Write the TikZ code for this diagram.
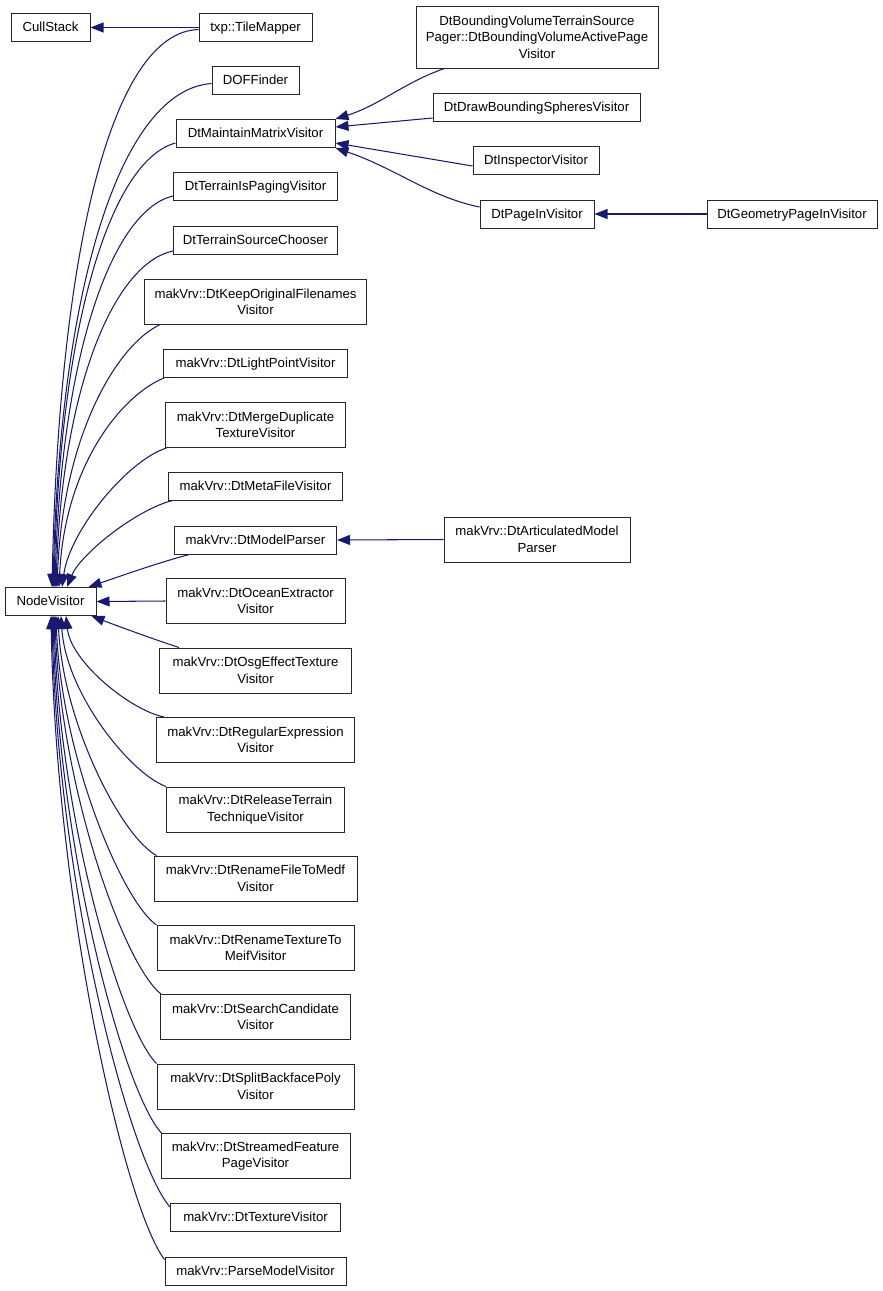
\documentclass[tikz,border=0pt]{standalone}
\usepackage{fontspec}
\setmainfont{Liberation Sans}
\usetikzlibrary{arrows.meta}
\definecolor{edgeblue}{HTML}{191970}
\begin{document}
\begin{tikzpicture}[x=1pt,y=-1pt,
  cls/.style={draw=black!85, line width=1pt, fill=white, inner sep=0pt, align=center,
    font=\fontsize{13.2}{16.5}\selectfont},
  one/.style={cls, minimum height=28pt, text height=10pt, text depth=2pt},
  two/.style={cls, minimum height=45pt},
  inh/.style={draw=edgeblue, line width=1.05pt, -{Triangle[length=13pt,width=10pt]}}]
\useasboundingbox (0,0) rectangle (883,1291);

% left column
\node[one, minimum width=79pt] (cull) at (50.5,27.5) {CullStack};
\node[one, minimum width=91pt] (nv) at (50.5,601.5) {NodeVisitor};

% middle column
\node[one, minimum width=113pt] (tile) at (255.5,27.5) {txp::TileMapper};
\node[one, minimum width=87pt] (dof) at (255.5,80.5) {DOFFinder};
\node[one, minimum width=159pt] (maint) at (255.5,133.5) {DtMaintainMatrixVisitor};
\node[one, minimum width=164pt] (paging) at (255.5,186.5) {DtTerrainIsPagingVisitor};
\node[one, minimum width=164pt] (chooser) at (255.5,240.5) {DtTerrainSourceChooser};
\node[two, minimum width=222pt] (keep) at (255.5,302) {makVrv::DtKeepOriginalFilenames\\Visitor};
\node[one, minimum width=184pt] (light) at (255.5,363.5) {makVrv::DtLightPointVisitor};
\node[two, minimum width=180pt] (merge) at (255.5,425) {makVrv::DtMergeDuplicate\\TextureVisitor};
\node[one, minimum width=174pt] (meta) at (255.5,486) {makVrv::DtMetaFileVisitor};
\node[one, minimum width=162pt] (model) at (255.5,540) {makVrv::DtModelParser};
\node[two, minimum width=179pt] (ocean) at (255.5,601) {makVrv::DtOceanExtractor\\Visitor};
\node[two, minimum width=192pt] (osg) at (255.5,670.5) {makVrv::DtOsgEffectTexture\\Visitor};
\node[two, minimum width=198pt] (regex) at (255.5,740) {makVrv::DtRegularExpression\\Visitor};
\node[two, minimum width=178pt] (release) at (255.5,809.5) {makVrv::DtReleaseTerrain\\TechniqueVisitor};
\node[two, minimum width=203pt] (medf) at (255.5,878.5) {makVrv::DtRenameFileToMedf\\Visitor};
\node[two, minimum width=197pt] (meif) at (255.5,948) {makVrv::DtRenameTextureTo\\MeifVisitor};
\node[two, minimum width=190pt] (search) at (255.5,1017) {makVrv::DtSearchCandidate\\Visitor};
\node[two, minimum width=197pt] (split) at (255.5,1086.5) {makVrv::DtSplitBackfacePoly\\Visitor};
\node[two, minimum width=189pt] (streamed) at (255.5,1156) {makVrv::DtStreamedFeature\\PageVisitor};
\node[one, minimum width=170pt] (texture) at (255.5,1217.5) {makVrv::DtTextureVisitor};
\node[one, minimum width=181pt] (parse) at (255.5,1271) {makVrv::ParseModelVisitor};

% right columns
\node[cls, minimum width=242pt, minimum height=62pt] (bv) at (537,37) {DtBoundingVolumeTerrainSource\\Pager::DtBoundingVolumeActivePage\\Visitor};
\node[one, minimum width=207pt] (draw) at (536.5,107.5) {DtDrawBoundingSpheresVisitor};
\node[one, minimum width=126pt] (insp) at (536,160.5) {DtInspectorVisitor};
\node[one, minimum width=114pt] (pagein) at (537,214) {DtPageInVisitor};
\node[one, minimum width=170pt] (geom) at (792,214) {DtGeometryPageInVisitor};
\node[two, minimum width=186pt] (artic) at (537,539.5) {makVrv::DtArticulatedModel\\Parser};

% straight connectors
\draw[inh] (tile.west) -- (cull.east);
\draw[inh] (geom.west) -- (pagein.east);
\draw[inh] (artic.west) -- (model.east);
\draw[inh] (ocean.west) -- (nv.east);

% into DtMaintainMatrixVisitor
\draw[inh] ([xshift=29pt]bv.south west) .. controls (405,82) and (380,105) .. (maint.north east);
\draw[inh] ([yshift=4pt]draw.south west) -- ([yshift=6.5pt]maint.east);
\draw[inh] ([yshift=-5.5pt]insp.west) -- ([yshift=-9.5pt]maint.east);
\draw[inh] ([yshift=7pt]pagein.west) .. controls (430,197) and (395,168) .. (maint.south east);

% upper children into NodeVisitor
\draw[inh] ([yshift=-2pt]tile.west) .. controls (111,32) and (59,253) .. ([xshift=1.5pt]nv.north);
\draw[inh] ([yshift=-3pt]dof.west) .. controls (121,90) and (60,285) .. ([xshift=2.5pt]nv.north);
\draw[inh] ([yshift=5pt]maint.south west) .. controls (112,160) and (60,320) .. ([xshift=3.5pt]nv.north);
\draw[inh] ([yshift=5pt]paging.south west) .. controls (113,210) and (61,352) .. ([xshift=4.5pt]nv.north);
\draw[inh] ([yshift=4pt]chooser.south west) .. controls (115,263) and (62,385) .. ([xshift=5.5pt]nv.north);
\draw[inh] ([xshift=15.5pt]keep.south west) .. controls (120,343) and (63,430) .. ([xshift=6.5pt]nv.north);
\draw[inh] ([xshift=1pt]light.south west) .. controls (124,394) and (65,462) .. ([xshift=8.5pt]nv.north);
\draw[inh] ([xshift=1.5pt]merge.south west) .. controls (128,460) and (70,530) .. ([xshift=11.5pt]nv.north);
\draw[inh] ([xshift=4.5pt]meta.south west) .. controls (135,510) and (80,555) .. ([xshift=16.5pt]nv.north);
\draw[inh] ([xshift=15.5pt]model.south west) .. controls (160,562) and (115,578) .. ([xshift=-8pt]nv.north east);

% lower children into NodeVisitor
\draw[inh] ([xshift=20pt]osg.north west) .. controls (150,638) and (115,625) .. ([xshift=-5pt]nv.south east);
\draw[inh] ([xshift=8pt]regex.north west) .. controls (130,710) and (71,662) .. ([xshift=15.5pt]nv.south);
\draw[inh] (release.north west) .. controls (129.6,773) and (66,693) .. ([xshift=10.5pt]nv.south);
\draw[inh] ([xshift=3pt]medf.north west) .. controls (122,837) and (63,724) .. ([xshift=7.5pt]nv.south);
\draw[inh] (meif.north west) .. controls (122,901) and (61,755) .. ([xshift=5.5pt]nv.south);
\draw[inh] ([xshift=1pt]search.north west) .. controls (124,965) and (60,787) .. ([xshift=4.5pt]nv.south);
\draw[inh] (split.north west) .. controls (121,1028) and (59,818) .. ([xshift=3.5pt]nv.south);
\draw[inh] ([xshift=1pt]streamed.north west) .. controls (124,1093) and (58,849) .. ([xshift=2.5pt]nv.south);
\draw[inh] ([yshift=-4pt]texture.north west) .. controls (129,1160) and (57,882) .. ([xshift=1.5pt]nv.south);
\draw[inh] ([yshift=-3pt]parse.north west) .. controls (125,1208) and (56,906) .. ([xshift=0.5pt]nv.south);
\end{tikzpicture}
\end{document}
